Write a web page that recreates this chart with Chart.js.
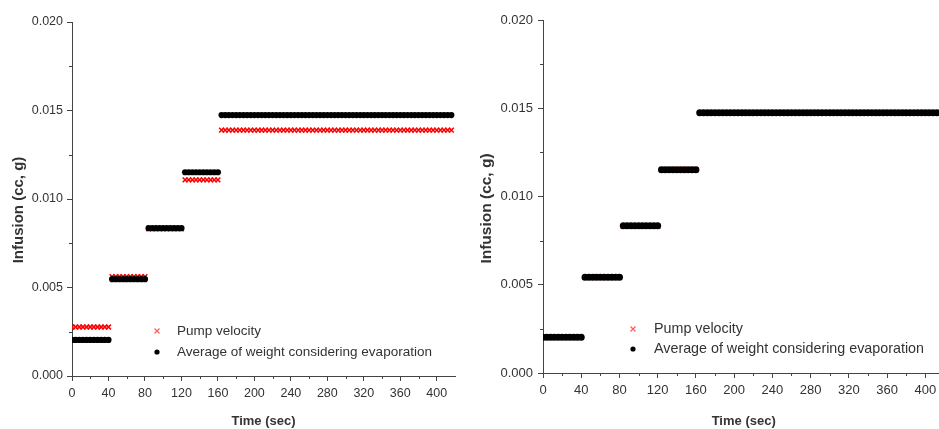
<!DOCTYPE html>
<html lang="en">
<head>
<meta charset="UTF-8" />
<title>Infusion vs time</title>
<script src="https://cdn.jsdelivr.net/npm/chart.js"></script>
<style>
  html, body { margin: 0; padding: 0; background: #ffffff; overflow: hidden; }
  .panel { position: absolute; top: 0; height: 429px; }
  #leftPanel { left: 0; width: 470px; }
  #rightPanel { left: 470px; width: 480px; }
</style>
</head>
<body>
<div class="panel" id="leftPanel"><canvas id="leftChart"></canvas></div>
<div class="panel" id="rightPanel"><canvas id="rightChart"></canvas></div>

<script>
// pump steps (sec) and the recorder's sampling interval
const stepStarts = [0, 42, 82, 122, 162];
const stepEnds   = [42, 82, 122, 162, 420];
const sampleEvery = 4;

// plateau values
const leftPump    = [0.00277, 0.00561, 0.00832, 0.01108, 0.01389];
const leftWeight  = [0.00204, 0.00547, 0.00835, 0.01151, 0.01474];
const rightPump   = [0.00202, 0.00542, 0.00831, 0.01153, 0.01475];
const rightWeight = [0.00203, 0.00543, 0.00834, 0.01151, 0.01475];

const xTicks = [0, 40, 80, 120, 160, 200, 240, 280, 320, 360, 400];
const yTicks = [0, 0.005, 0.010, 0.015, 0.020];

const seriesNames = ['Pump velocity', 'Average of weight considering evaporation'];
const xTitle = 'Time (sec)';
const yTitle = 'Infusion (cc, g)';

const FONT = '"Liberation Sans", Arial, sans-serif';
const INK = '#333333';

// one point per recorded sample, held at the plateau level of its step
function stepPoints(levels) {
  const pts = [];
  for (let i = 0; i < levels.length; i++) {
    let t = Math.ceil(stepStarts[i] / sampleEvery) * sampleEvery;
    for (; t < stepEnds[i]; t += sampleEvery) pts.push({ x: t, y: levels[i] });
  }
  return pts;
}

// legend drawn inside the plot area, like the original
const insideLegend = {
  id: 'insideLegend',
  afterDatasetsDraw(chart, args, opts) {
    const { ctx, chartArea } = chart;
    ctx.save();
    ctx.font = opts.size + 'px ' + FONT;
    ctx.textBaseline = 'middle';
    seriesNames.forEach((name, i) => {
      const y = chartArea.bottom - opts.rows[i];
      const mx = chartArea.left + opts.markerX;
      if (i === 0) {
        ctx.strokeStyle = '#ff5a5a';
        ctx.lineWidth = 1.2;
        ctx.beginPath();
        ctx.moveTo(mx - 2.5, y - 2.5); ctx.lineTo(mx + 2.5, y + 2.5);
        ctx.moveTo(mx + 2.5, y - 2.5); ctx.lineTo(mx - 2.5, y + 2.5);
        ctx.stroke();
      } else {
        ctx.fillStyle = '#000000';
        ctx.beginPath();
        ctx.arc(mx, y, 2.6, 0, Math.PI * 2);
        ctx.fill();
      }
      ctx.fillStyle = INK;
      ctx.fillText(name, chartArea.left + opts.textX, y);
    });
    ctx.restore();
  }
};

// minor ticks and the rotated y title
const axisExtras = {
  id: 'axisExtras',
  afterDraw(chart, args, opts) {
    const { ctx, chartArea, scales } = chart;
    ctx.save();
    ctx.strokeStyle = '#444444';
    ctx.lineWidth = 1;
    ctx.beginPath();
    for (let v = 20; v < scales.x.max; v += 40) {
      const px = Math.round(scales.x.getPixelForValue(v)) + 0.5;
      ctx.moveTo(px, chartArea.bottom);
      ctx.lineTo(px, chartArea.bottom + 3);
    }
    for (let v = 0.0025; v < scales.y.max; v += 0.005) {
      const py = Math.round(scales.y.getPixelForValue(v)) + 0.5;
      ctx.moveTo(chartArea.left, py);
      ctx.lineTo(chartArea.left - 3, py);
    }
    ctx.stroke();

    ctx.translate(opts.titleX, (chartArea.top + chartArea.bottom) / 2 + opts.titleShift);
    ctx.rotate(-Math.PI / 2);
    ctx.font = 'bold ' + opts.titleSize + 'px ' + FONT;
    ctx.fillStyle = INK;
    ctx.textAlign = 'center';
    ctx.textBaseline = 'middle';
    ctx.fillText(yTitle, 0, 0);
    ctx.restore();
  }
};

function makeChart(id, pump, weight, look) {
  return new Chart(document.getElementById(id), {
    type: 'scatter',
    data: {
      datasets: [
        {
          label: seriesNames[0],
          data: stepPoints(pump),
          order: 1,
          pointStyle: 'crossRot',
          pointRadius: 3.4,
          borderColor: '#ff0000',
          backgroundColor: '#ff0000',
          borderWidth: 1.6
        },
        {
          label: seriesNames[1],
          data: stepPoints(weight),
          order: 0,
          pointStyle: 'circle',
          pointRadius: look.dot,
          borderWidth: 0,
          borderColor: '#000000',
          backgroundColor: '#000000'
        }
      ]
    },
    options: {
      responsive: true,
      maintainAspectRatio: false,
      animation: false,
      layout: { padding: look.padding },
      plugins: {
        legend: { display: false },
        tooltip: { enabled: false },
        insideLegend: look.legend,
        axisExtras: look.extras
      },
      scales: {
        x: {
          type: 'linear',
          min: 0,
          max: 420,
          afterBuildTicks(scale) { scale.ticks = xTicks.map(v => ({ value: v })); },
          afterFit(scale) { scale.height = look.xHeight; },
          grid: { drawOnChartArea: false, drawTicks: true, tickLength: 5, color: '#444444' },
          border: { display: true, color: '#444444', width: 1 },
          ticks: {
            padding: 5,
            color: INK,
            maxRotation: 0,
            autoSkip: false,
            font: { family: FONT, size: look.tickSize }
          },
          title: {
            display: true,
            text: xTitle,
            color: INK,
            padding: { top: 0, bottom: 0 },
            font: { family: FONT, size: 13, weight: 'bold' }
          }
        },
        y: {
          type: 'linear',
          min: 0,
          max: 0.02,
          afterBuildTicks(scale) { scale.ticks = yTicks.map(v => ({ value: v })); },
          afterFit(scale) { scale.width = look.yWidth; },
          grid: { drawOnChartArea: false, drawTicks: true, tickLength: 5, color: '#444444' },
          border: { display: true, color: '#444444', width: 1 },
          ticks: {
            padding: look.yPad,
            color: INK,
            font: { family: FONT, size: look.tickSize },
            callback: v => v.toFixed(3)
          }
        }
      }
    },
    plugins: [insideLegend, axisExtras]
  });
}

makeChart('leftChart', leftPump, leftWeight, {
  padding: { top: 22, right: 15, left: 0, bottom: 0 },
  xHeight: 53,
  yWidth: 72,
  yPad: 4,
  tickSize: 12.5,
  dot: 3.1,
  legend: { size: 13.5, markerX: 85, textX: 105, rows: [45, 24] },
  extras: { titleX: 19, titleShift: 11, titleSize: 15 }
});

makeChart('rightChart', rightPump, rightWeight, {
  padding: { top: 20, right: 2, left: 0, bottom: 0 },
  xHeight: 56,
  yWidth: 73,
  yPad: 5,
  tickSize: 13,
  dot: 3.5,
  legend: { size: 14.3, markerX: 90, textX: 111, rows: [44, 24] },
  extras: { titleX: 17, titleShift: 12, titleSize: 15.5 }
});
</script>
</body>
</html>
